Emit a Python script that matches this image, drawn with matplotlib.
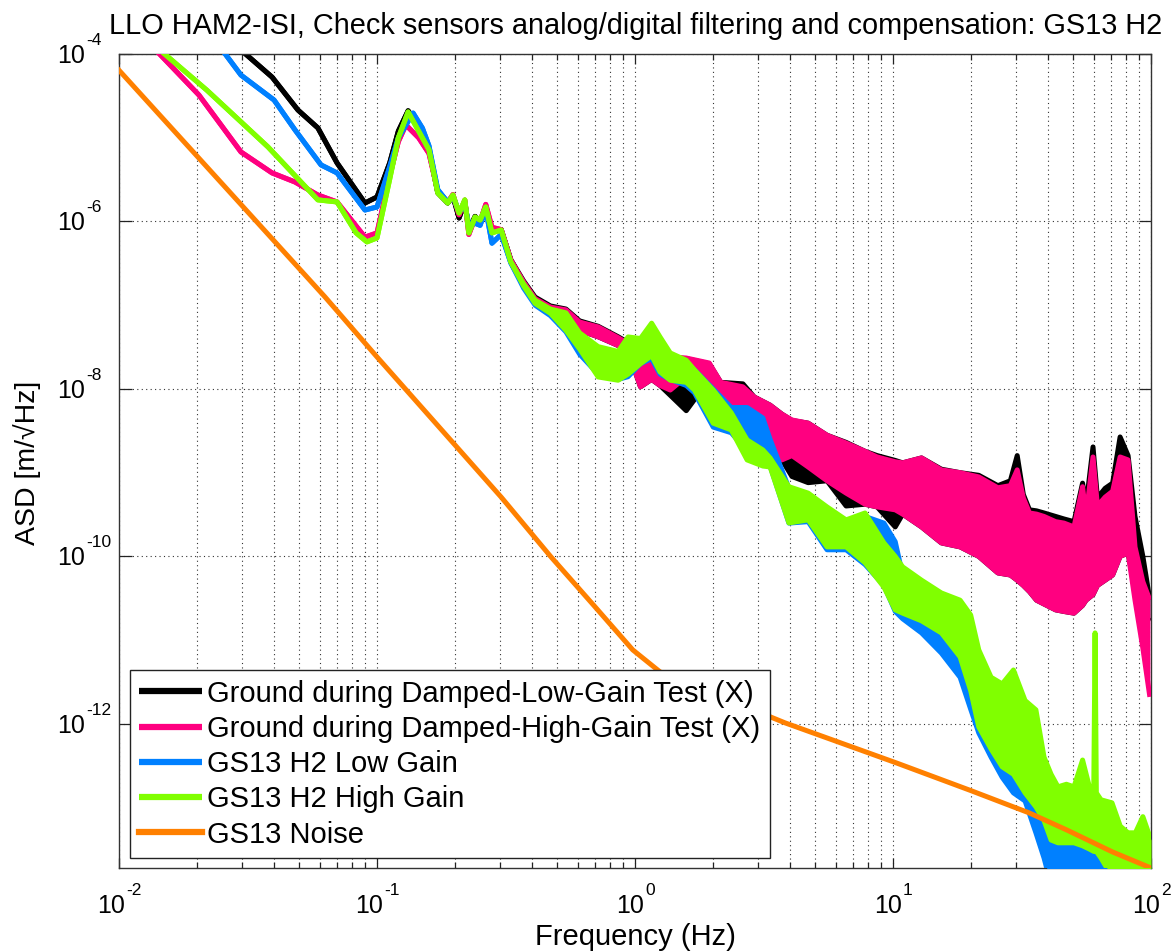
import numpy as np
import matplotlib
matplotlib.use("Agg")
import matplotlib.pyplot as plt
from matplotlib.ticker import FixedLocator, LogLocator, NullFormatter, NullLocator
from matplotlib.transforms import blended_transform_factory

plt.rcParams['font.family'] = ['Liberation Sans', 'DejaVu Sans']

# ---------------------------------------------------------------- data
title = "LLO HAM2-ISI, Check sensors analog/digital filtering and compensation: GS13 H2"
labels = ["Ground during Damped-Low-Gain Test (X)",
          "Ground during Damped-High-Gain Test (X)",
          "GS13 H2 Low Gain",
          "GS13 H2 High Gain",
          "GS13 Noise"]
colors = ["#000000", "#FF0080", "#0080FF", "#80FF00", "#FF8000"]

x_ticks = [1e-2, 1e-1, 1e0, 1e1, 1e2]
x_exps = ["-2", "-1", "0", "1", "2"]
y_ticks = [1e-12, 1e-10, 1e-8, 1e-6, 1e-4]
y_exps = ["-12", "-10", "-8", "-6", "-4"]

# low-frequency part of each trace (single valued)
f_black_low = [0.028, 0.0313, 0.0392, 0.0494, 0.059, 0.070, 0.0898, 0.100, 0.112, 0.121,
               0.132, 0.145, 0.159, 0.172, 0.188, 0.197, 0.208, 0.219, 0.227, 0.240,
               0.251, 0.264, 0.279, 0.303]
v_black_low = [1.3e-4, 9.7e-5, 5.3e-5, 2.14e-5, 1.31e-5, 5.0e-6, 1.66e-6, 1.96e-6, 5.0e-6, 1.2e-5,
               2.1e-5, 1.4e-5, 7.2e-6, 2.2e-6, 1.66e-6, 2.0e-6, 1.1e-6, 1.7e-6, 8.0e-7, 1.15e-6,
               1.0e-6, 1.5e-6, 8.0e-7, 8.0e-7]

f_pink_low = [0.013, 0.0145, 0.0204, 0.0297, 0.0392, 0.0481, 0.059, 0.070, 0.0898, 0.100,
              0.112, 0.121, 0.1294, 0.145, 0.159, 0.172, 0.188, 0.197, 0.208, 0.219,
              0.227, 0.240, 0.251, 0.264, 0.279, 0.303]
v_pink_low = [1.38e-4, 9.7e-5, 3.24e-5, 6.76e-6, 3.8e-6, 2.96e-6, 2.07e-6, 1.71e-6, 6.5e-7, 7.3e-7,
              3.5e-6, 9.0e-6, 1.42e-5, 1.0e-5, 6.5e-6, 2.3e-6, 1.7e-6, 2.1e-6, 1.2e-6, 1.8e-6,
              7.0e-7, 1.1e-6, 1.0e-6, 1.6e-6, 8.5e-7, 8.0e-7]

f_blue_low = [0.024, 0.026, 0.0297, 0.0399, 0.0481, 0.0607, 0.070, 0.0898, 0.100, 0.112,
              0.121, 0.138, 0.150, 0.159, 0.172, 0.188, 0.197, 0.208, 0.219, 0.227,
              0.240, 0.251, 0.264, 0.279, 0.303]
v_blue_low = [1.35e-4, 9.7e-5, 5.6e-5, 2.82e-5, 1.24e-5, 4.73e-6, 3.8e-6, 1.37e-6, 1.49e-6, 4.5e-6,
              1.0e-5, 1.97e-5, 1.3e-5, 8.0e-6, 2.4e-6, 1.7e-6, 2.0e-6, 1.3e-6, 1.6e-6, 9.0e-7,
              9.5e-7, 9.0e-7, 1.4e-6, 5.5e-7, 7.0e-7]

f_green_low = [0.0135, 0.0152, 0.0219, 0.0378, 0.059, 0.070, 0.083, 0.0914, 0.100, 0.112,
               0.121, 0.132, 0.145, 0.159, 0.172, 0.188, 0.197, 0.208, 0.219, 0.227,
               0.240, 0.251, 0.264, 0.279, 0.303]
v_green_low = [1.33e-4, 9.7e-5, 3.7e-5, 7.76e-6, 1.81e-6, 1.71e-6, 7.3e-7, 5.7e-7, 6.36e-7, 3.2e-6,
               1.0e-5, 2.03e-5, 1.2e-5, 7.2e-6, 2.19e-6, 1.66e-6, 2.07e-6, 1.26e-6, 1.81e-6, 7.3e-7,
               1.13e-6, 1.04e-6, 1.49e-6, 7.3e-7, 7.9e-7]

# noisy part: lower / upper envelope of the spectra
f_ground_band = [0.33, 0.37, 0.41, 0.47, 0.54, 0.61, 0.72, 0.86, 0.94, 1.05,
                 1.16, 1.25, 1.37, 1.58, 1.94, 2.15, 2.62, 2.9, 3.34, 3.71,
                 4.06, 4.69, 5.55, 6.58, 7.79, 8.68, 10.2, 10.9, 12.9, 15.4,
                 18.2, 21.5, 25.5, 28.5, 30.3, 32.0, 33.8, 36.0, 38.5, 42.7,
                 46.0, 50.3, 54.3, 56.0, 59.6, 62.0, 66.4, 71.0, 75.9, 81.5,
                 86.7, 93.0, 99.0]
hi_black_band = [3.5e-7, 1.95e-7, 1.25e-7, 9.8e-8, 9.0e-8, 6.5e-8, 5.6e-8, 4.2e-8, 3.6e-8, 3.0e-8,
                 2.6e-8, 2.5e-8, 2.4e-8, 2.3e-8, 2.0e-8, 1.2e-8, 1.15e-8, 8.0e-9, 6.4e-9, 5.0e-9,
                 4.2e-9, 3.9e-9, 2.8e-9, 2.3e-9, 1.8e-9, 1.6e-9, 1.4e-9, 1.31e-9, 1.5e-9, 1.1e-9,
                 1.0e-9, 9.3e-10, 7.0e-10, 8.0e-10, 1.6e-9, 5.5e-10, 3.6e-10, 3.5e-10, 3.3e-10, 3.0e-10,
                 2.8e-10, 2.6e-10, 7.5e-10, 4.0e-10, 2.03e-9, 5.0e-10, 6.5e-10, 7.5e-10, 2.67e-9, 1.6e-9,
                 3.0e-10, 1.0e-10, 3.0e-11]
lo_black_band = [3.5e-7, 1.85e-7, 1.15e-7, 8.7e-8, 7.5e-8, 5.0e-8, 4.2e-8, 3.3e-8, 2.8e-8, 1.06e-8,
                 1.3e-8, 1.1e-8, 8.4e-9, 5.5e-9, 1.3e-8, 8.0e-9, 6.0e-9, 4.0e-9, 2.0e-9, 1.42e-9,
                 9.0e-10, 7.6e-10, 8.0e-10, 4.0e-10, 4.2e-10, 3.9e-10, 2.25e-10, 3.2e-10, 2.25e-10, 1.45e-10,
                 1.3e-10, 1.0e-10, 6.35e-11, 6.0e-11, 5.2e-11, 4.5e-11, 3.8e-11, 3.0e-11, 2.7e-11, 2.3e-11,
                 2.2e-11, 2.1e-11, 2.6e-11, 3.0e-11, 3.5e-11, 4.5e-11, 5.2e-11, 6.0e-11, 1.0e-10, 1.1e-10,
                 4.0e-11, 2.0e-11, 1.7e-11]
hi_pink_band = [3.47e-7, 1.9e-7, 1.2e-7, 9.5e-8, 8.8e-8, 6.3e-8, 5.5e-8, 4.1e-8, 3.5e-8, 3.0e-8,
                2.6e-8, 2.5e-8, 2.4e-8, 2.34e-8, 2.04e-8, 1.2e-8, 1.06e-8, 8.0e-9, 6.4e-9, 5.0e-9,
                4.26e-9, 3.9e-9, 2.8e-9, 2.26e-9, 1.8e-9, 1.54e-9, 1.35e-9, 1.31e-9, 1.5e-9, 1.08e-9,
                1.0e-9, 8.9e-10, 6.6e-10, 7.0e-10, 1.08e-9, 5.0e-10, 3.3e-10, 3.2e-10, 3.0e-10, 2.6e-10,
                2.5e-10, 2.25e-10, 6.8e-10, 3.0e-10, 1.54e-9, 4.0e-10, 5.1e-10, 6.0e-10, 1.54e-9, 1.42e-9,
                1.3e-10, 5.0e-11, 3.0e-11]
lo_pink_band = [3.47e-7, 1.8e-7, 1.1e-7, 8.5e-8, 7.5e-8, 5.0e-8, 4.2e-8, 3.3e-8, 2.8e-8, 1.06e-8,
                1.3e-8, 1.1e-8, 9.7e-9, 1.4e-8, 1.3e-8, 8.0e-9, 6.0e-9, 4.0e-9, 3.24e-9, 1.42e-9,
                1.6e-9, 1.17e-9, 8.0e-10, 5.7e-10, 4.2e-10, 3.9e-10, 3.6e-10, 3.2e-10, 2.25e-10, 1.45e-10,
                1.3e-10, 1.0e-10, 6.35e-11, 6.0e-11, 5.2e-11, 4.5e-11, 3.8e-11, 3.0e-11, 2.7e-11, 2.3e-11,
                2.2e-11, 2.1e-11, 2.6e-11, 3.0e-11, 3.5e-11, 4.5e-11, 5.2e-11, 6.0e-11, 1.0e-10, 1.1e-10,
                3.0e-11, 8.0e-12, 2.1e-12]

f_gs13_band = [0.33, 0.37, 0.41, 0.47, 0.54, 0.61, 0.72, 0.86, 0.94, 1.05,
               1.16, 1.25, 1.37, 1.58, 1.7, 2.01, 2.36, 2.72, 3.13, 3.34,
               3.95, 4.69, 5.55, 6.58, 7.79, 9.22, 10.2, 10.9, 12.9, 15.4,
               18.2, 20.0, 21.5, 24.0, 26.5, 29.3, 32.5, 35.8, 38.5, 41.0,
               43.6, 47.0, 50.3, 54.3, 57.7, 60.0, 60.7, 61.4, 64.0, 70.6,
               76.0, 81.5, 87.0, 93.0, 100.0]
hi_blue_band = [3.2e-7, 1.7e-7, 1.1e-7, 8.5e-8, 7.5e-8, 4.5e-8, 3.0e-8, 2.5e-8, 3.5e-8, 3.5e-8,
                4.0e-8, 3.5e-8, 2.4e-8, 2.0e-8, 1.69e-8, 1.0e-8, 6.0e-9, 6.0e-9, 4.5e-9, 2.5e-9,
                6.5e-10, 5.5e-10, 3.5e-10, 2.6e-10, 3.0e-10, 2.5e-10, 1.5e-10, 6.0e-11, 4.5e-11, 3.3e-11,
                2.5e-11, 1.5e-11, 6.0e-12, 3.0e-12, 1.5e-12, 1.2e-12, 8.0e-13, 5.0e-13, 1.5e-13, 9.0e-14,
                7.0e-14, 5.5e-14, 5.0e-14, 4.5e-14, 4.0e-14, 3.8e-14, 3.6e-14, 3.5e-14, 3.0e-14, 2.2e-14,
                1.8e-14, 1.5e-14, 1.2e-14, 1.0e-14, 1.0e-14]
lo_blue_band = [3.2e-7, 1.6e-7, 1.0e-7, 7.5e-8, 4.8e-8, 2.6e-8, 1.5e-8, 1.3e-8, 1.4e-8, 2.0e-8,
                2.3e-8, 1.5e-8, 1.3e-8, 1.1e-8, 9.0e-9, 3.5e-9, 3.0e-9, 1.8e-9, 1.3e-9, 1.2e-9,
                2.5e-10, 2.6e-10, 1.2e-10, 1.2e-10, 8.0e-11, 4.5e-11, 2.2e-11, 1.8e-11, 1.22e-11, 7.0e-12,
                3.6e-12, 1.5e-12, 7.8e-13, 4.0e-13, 2.3e-13, 1.5e-13, 1.2e-13, 5.0e-14, 2.5e-14, 1.2e-14,
                1.0e-14, 1.0e-14, 1.0e-14, 1.0e-14, 1.0e-14, 1.0e-14, 1.0e-14, 1.0e-14, 1.0e-14, 1.0e-14,
                1.0e-14, 1.0e-14, 1.0e-14, 1.0e-14, 1.0e-14]
hi_green_band = [3.3e-7, 1.8e-7, 1.15e-7, 9.0e-8, 8.1e-8, 4.67e-8, 3.2e-8, 2.8e-8, 4.18e-8, 4.0e-8,
                 6.1e-8, 4.18e-8, 2.69e-8, 2.2e-8, 1.69e-8, 9.7e-9, 5.2e-9, 2.46e-9, 1.87e-9, 1.5e-9,
                 6.8e-10, 5.7e-10, 3.9e-10, 2.73e-10, 3.3e-10, 1.45e-10, 1.0e-10, 7.5e-11, 5.2e-11, 3.66e-11,
                 3.0e-11, 2.0e-11, 7.65e-12, 3.6e-12, 3.0e-12, 4.4e-12, 1.9e-12, 1.47e-12, 4.0e-13, 2.5e-13,
                 1.77e-13, 1.9e-13, 1.77e-13, 3.7e-13, 1.77e-13, 1.6e-13, 1.22e-11, 1.5e-13, 1.24e-13, 1.14e-13,
                 6.0e-14, 5.0e-14, 5.0e-14, 7.8e-14, 4.1e-14]
lo_green_band = [3.3e-7, 1.7e-7, 1.05e-7, 8.0e-8, 5.0e-8, 3.0e-8, 1.39e-8, 1.27e-8, 1.5e-8, 2.0e-8,
                 2.5e-8, 1.6e-8, 1.27e-8, 1.2e-8, 9.7e-9, 3.9e-9, 3.24e-9, 1.42e-9, 1.2e-9, 1.17e-9,
                 2.51e-10, 2.73e-10, 1.3e-10, 1.3e-10, 8.4e-11, 4.3e-11, 2.3e-11, 2.1e-11, 1.7e-11, 1.22e-11,
                 6.3e-12, 2.5e-12, 9.2e-13, 5.0e-13, 3.07e-13, 2.5e-13, 1.5e-13, 1.02e-13, 7.0e-14, 4.1e-14,
                 3.8e-14, 3.8e-14, 3.8e-14, 3.5e-14, 3.2e-14, 3.0e-14, 3.0e-14, 3.0e-14, 2.5e-14, 1.5e-14,
                 1.2e-14, 1.2e-14, 1.2e-14, 1.2e-14, 1.2e-14]

# sensor noise model
f_noise = [0.01, 0.0628, 0.1, 0.303, 0.472, 0.70, 0.98, 1.25, 3.81, 10.3,
           20.0, 33.7, 47.2, 71.0, 100.0]
v_noise = [6.4e-5, 1.26e-7, 2.41e-8, 5.1e-10, 9.9e-11, 2.5e-11, 7.65e-12, 4.18e-12, 1.03e-12, 3.42e-13,
           1.6e-13, 8.65e-14, 5.4e-14, 2.95e-14, 1.9e-14]

# ---------------------------------------------------------------- figure
W, H = 1173, 952
PT = 72.0 / 100.0          # points per pixel at dpi=100
fig = plt.figure(figsize=(W / 100, H / 100), dpi=100)
ax = fig.add_axes([119 / W, (H - 868) / H, 1032 / W, 814 / H])
ax.set_xscale('log')
ax.set_yscale('log')
ax.set_xlim(1e-2, 1e2)
ax.set_ylim(1.9e-14, 1e-4)

traces = [
    (f_black_low + f_ground_band, v_black_low + lo_black_band, v_black_low + hi_black_band),
    (f_pink_low + f_ground_band, v_pink_low + lo_pink_band, v_pink_low + hi_pink_band),
    (f_blue_low + f_gs13_band, v_blue_low + lo_blue_band, v_blue_low + hi_blue_band),
    (f_green_low + f_gs13_band, v_green_low + lo_green_band, v_green_low + hi_green_band),
]
LW = 3.6
for k, (f, lo, hi) in enumerate(traces):
    z = 2 + k
    ax.fill_between(f, lo, hi, color=colors[k], lw=0, zorder=z)
    ax.plot(f, hi, color=colors[k], lw=LW, zorder=z, label=labels[k],
            solid_joinstyle='round', solid_capstyle='butt')
    ax.plot(f, lo, color=colors[k], lw=LW, zorder=z,
            solid_joinstyle='round', solid_capstyle='butt')
ax.plot(f_noise, v_noise, color=colors[4], lw=LW, zorder=6, label=labels[4],
        solid_joinstyle='round')

# ticks and grid
ax.xaxis.set_major_locator(FixedLocator(x_ticks))
ax.xaxis.set_minor_locator(LogLocator(base=10, subs=np.arange(2, 10), numticks=50))
ax.xaxis.set_major_formatter(NullFormatter())
ax.xaxis.set_minor_formatter(NullFormatter())
ax.yaxis.set_major_locator(FixedLocator(y_ticks))
ax.yaxis.set_minor_locator(NullLocator())
ax.yaxis.set_major_formatter(NullFormatter())
ax.tick_params(which='both', direction='in', top=True, right=True, width=0.9, color='#222222')
ax.tick_params(axis='x', which='major', length=7)
ax.tick_params(axis='x', which='minor', length=4)
ax.tick_params(axis='y', which='major', length=9)
grid_kw = dict(linestyle=(0, (1, 3)), color='#333333', lw=0.8)
ax.grid(True, which='major', axis='both', **grid_kw)
ax.grid(True, which='minor', axis='x', **grid_kw)
ax.set_axisbelow(True)
for sp in ax.spines.values():
    sp.set_linewidth(1.0)
    sp.set_color('#333333')

# tick labels: "10" with a raised exponent
base_fs, exp_fs = 18, 12.5
renderer = fig.canvas.get_renderer()
xt = blended_transform_factory(ax.transData, fig.transFigure)
for xv, e in zip(x_ticks, x_exps):
    anchor = (xv, (H - 913) / H)
    b = ax.annotate('10', xy=anchor, xycoords=xt, xytext=(0, 0), textcoords='offset points',
                    ha='right', va='baseline', fontsize=base_fs, annotation_clip=False)
    s = ax.annotate(e, xy=anchor, xycoords=xt, xytext=(0, 18 * PT), textcoords='offset points',
                    ha='left', va='baseline', fontsize=exp_fs, annotation_clip=False)
    wb = b.get_window_extent(renderer).width
    ws = s.get_window_extent(renderer).width
    shift = (wb - ws) / 2.0
    b.xyann = (shift * PT, 0)
    s.xyann = ((shift + 1) * PT, 18 * PT)

yt = blended_transform_factory(fig.transFigure, ax.transData)
for yv, e in zip(y_ticks, y_exps):
    anchor = (57 / W, yv)
    b = ax.annotate('10', xy=anchor, xycoords=yt, xytext=(0, -9 * PT), textcoords='offset points',
                    ha='left', va='baseline', fontsize=base_fs, annotation_clip=False)
    wb = b.get_window_extent(renderer).width
    ax.annotate(e, xy=anchor, xycoords=yt, xytext=((wb + 1) * PT, 9 * PT), textcoords='offset points',
                ha='left', va='baseline', fontsize=exp_fs, annotation_clip=False)

# titles
fig.text(635.5 / W, (H - 34) / H, title, ha='center', va='baseline', fontsize=20.8)
fig.text(635 / W, (H - 945) / H, 'Frequency (Hz)', ha='center', va='baseline', fontsize=21)
fig.text(27 / W, (H - 463) / H, 'ASD [m/\u221aHz]', rotation=90, ha='center', va='center',
         fontsize=20.5)

# legend
leg = ax.legend(loc='lower left', bbox_to_anchor=(130 / W, (H - 858) / H),
                bbox_transform=fig.transFigure, fontsize=21, frameon=True,
                fancybox=False, framealpha=1, edgecolor='#222222',
                borderpad=0.32, handlelength=2.16, handletextpad=0.17,
                labelspacing=0.25, borderaxespad=0)
leg.get_frame().set_linewidth(1.0)
leg.set_zorder(10)
for h in leg.get_lines():
    h.set_linewidth(4.5)

fig.savefig('out.png', dpi=100)
